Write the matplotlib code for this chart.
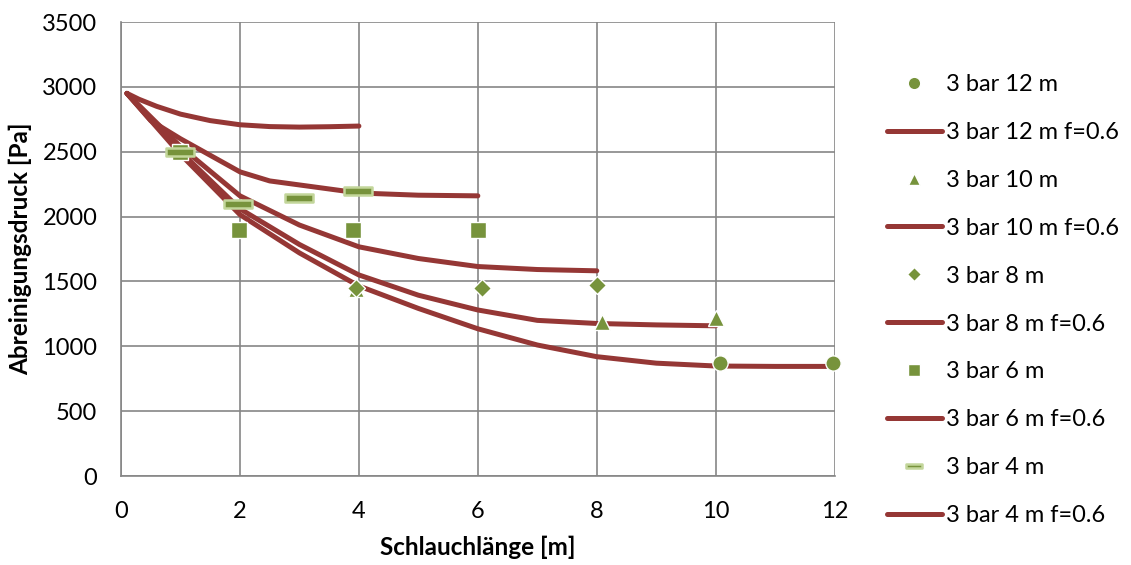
import matplotlib.pyplot as plt
from matplotlib.path import Path

plt.rcParams['font.family'] = ['Lato', 'DejaVu Sans']

# Messwerte (Marker)
x_12m = [10.07, 11.97]
p_12m = [875, 875]
x_10m = [3.95, 8.08, 10.0]
p_10m = [1440, 1190, 1220]
x_8m = [3.95, 6.07, 8.0]
p_8m = [1450, 1450, 1475]
x_6m = [1.0, 1.98, 3.9, 6.0]
p_6m = [2500, 1900, 1900, 1900]
x_4m = [1.0, 1.96, 3.0, 3.98]
p_4m = [2500, 2095, 2145, 2195]

# Berechnete Verläufe f=0.6
xc_12m = [0.1, 1, 2, 3, 4, 5, 6, 7, 8, 9, 10, 11, 12]
pc_12m = [2950, 2480, 2015, 1720, 1465, 1292, 1135, 1010, 920, 870, 848, 845, 845]
xc_10m = [0.1, 1, 2, 3, 4, 5, 6, 7, 8, 9, 10]
pc_10m = [2950, 2500, 2060, 1785, 1550, 1394, 1280, 1200, 1176, 1165, 1158]
xc_8m = [0.1, 1, 2, 3, 4, 5, 6, 7, 8]
pc_8m = [2950, 2540, 2160, 1935, 1767, 1677, 1615, 1592, 1582]
xc_6m = [0.1, 0.5, 1, 2, 2.5, 3, 4, 5, 6]
pc_6m = [2950, 2740, 2600, 2345, 2275, 2244, 2182, 2165, 2160]
xc_4m = [0.1, 0.3, 0.6, 1, 1.5, 2, 2.5, 3, 3.5, 4]
pc_4m = [2950, 2905, 2850, 2790, 2740, 2708, 2694, 2690, 2693, 2698]

green = '#77933C'
light = '#C3D69B'
red = '#953735'

# flacher Balken als Marker für die 4-m-Reihe
dash = Path([(-0.5, -0.14), (0.5, -0.14), (0.5, 0.14), (-0.5, 0.14), (-0.5, -0.14)],
             [Path.MOVETO, Path.LINETO, Path.LINETO, Path.LINETO, Path.CLOSEPOLY])

fig = plt.figure(figsize=(11.31, 5.65), dpi=100)
ax = fig.add_axes([0.107, 0.1575, 0.631, 0.8035])

line_kw = dict(color=red, lw=3.6, solid_capstyle='round', solid_joinstyle='round')
mk_kw = dict(ls='none', color=green, mec='white', mew=1, clip_on=False, zorder=3)

series = [
    ('12', x_12m, p_12m, xc_12m, pc_12m, 'o', 11),
    ('10', x_10m, p_10m, xc_10m, pc_10m, '^', 11.5),
    ('8', x_8m, p_8m, xc_8m, pc_8m, 'D', 9.5),
    ('6', x_6m, p_6m, xc_6m, pc_6m, 's', 11.5),
]
handles = []
for name, xm, pm, xc, pc, m, ms in series:
    h1, = ax.plot(xm, pm, marker=m, ms=ms, label=f'3 bar {name} m', **mk_kw)
    h2, = ax.plot(xc, pc, label=f'3 bar {name} m f=0.6', **line_kw)
    handles += [h1, h2]

h1, = ax.plot(x_4m, p_4m, ls='none', marker=dash, ms=20, color=green, mec=light,
              mew=1.8, clip_on=False, zorder=3, label='3 bar 4 m')
h2, = ax.plot(xc_4m, pc_4m, label='3 bar 4 m f=0.6', **line_kw)
handles += [h1, h2]

ax.set_xlim(0, 12)
ax.set_ylim(0, 3500)
ax.set_xticks(range(0, 13, 2))
ax.set_yticks(range(0, 3501, 500))
ax.grid(True, color='#868686', lw=1.2)
ax.set_axisbelow(True)
for s in ['top', 'right']:
    ax.spines[s].set_visible(False)
for s in ['left', 'bottom']:
    ax.spines[s].set_color('#868686')
    ax.spines[s].set_linewidth(1.2)
ax.tick_params(axis='both', length=0, labelsize=17)
ax.tick_params(axis='y', pad=17)
ax.tick_params(axis='x', pad=18)

ax.set_xlabel('Schlauchlänge [m]', fontsize=17.5, fontweight='bold', labelpad=10)
ax.set_ylabel('Abreinigungsdruck [Pa]', fontsize=17.5, fontweight='bold', labelpad=7)

leg = fig.legend(handles=handles, loc='upper left', bbox_to_anchor=(0.7737, 0.89),
                 frameon=False, fontsize=17, handlelength=2.33, handletextpad=0.17,
                 labelspacing=1.14, borderpad=0)
# kleinere Symbole in der Legende
for h, ms in zip(leg.legend_handles[::2], [9, 8, 7, 8.5, 11]):
    h.set_markersize(ms)

fig.savefig('out.png', dpi=100)
